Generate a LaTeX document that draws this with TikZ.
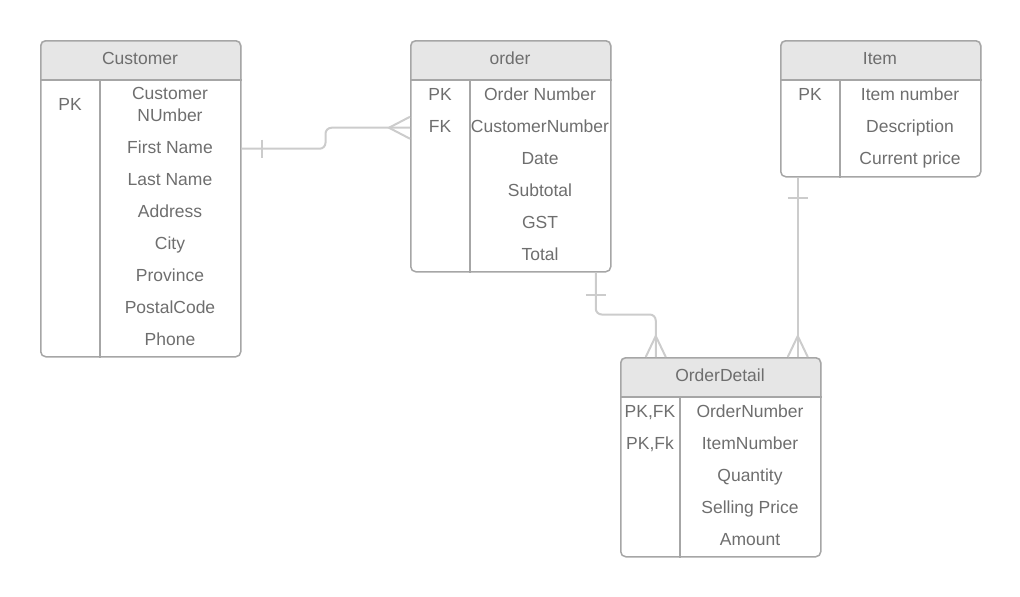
\documentclass[tikz,border=0pt]{standalone}
\usepackage{fontspec}
\setmainfont{Liberation Sans}
\usetikzlibrary{backgrounds}
\definecolor{boxgray}{HTML}{A6A6A6}
\definecolor{headgray}{HTML}{E6E6E6}
\definecolor{txtgray}{HTML}{6E6E6E}
\definecolor{relgray}{HTML}{CCCCCC}
\tikzset{
  tbl/.style={draw=boxgray, line width=1.5pt, rounded corners=5pt, minimum width=200pt, anchor=north west, inner sep=0pt},
  cell/.style={text=txtgray, font=\fontsize{17.5}{22}\selectfont, align=center, inner sep=1pt, anchor=base},
  rel/.style={draw=relgray, line width=2pt},
}
\begin{document}
\begin{tikzpicture}[x=1pt,y=-1pt]
\useasboundingbox (0,0) rectangle (1020,597);
% tables
\node[tbl, minimum height=316pt] (customer) at (40,40) {};
\node[tbl, minimum height=231pt] (order) at (410,40) {};
\node[tbl, minimum height=136pt] (item) at (780,40) {};
\node[tbl, minimum height=199pt] (detail) at (620,357) {};
\begin{scope}[on background layer]
\foreach \t in {customer,order,item,detail}
  \fill[headgray] ([yshift=-40pt]\t.north west) [rounded corners=5pt] -- (\t.north west) -- (\t.north east) [sharp corners] -- ([yshift=-40pt]\t.north east) -- cycle;
\end{scope}
\foreach \t in {customer,order,item,detail} {
  \draw[boxgray, line width=1.5pt] ([yshift=-40pt]\t.north west) -- ([yshift=-40pt]\t.north east);
  \draw[boxgray, line width=1.5pt] ([xshift=60pt,yshift=-40pt]\t.north west) -- ([xshift=60pt]\t.south west);
}
% Customer
\node[cell] (customer-h) at (140,64) {Customer};
\node[cell] (customer-k1) at (70,110) {PK};
\node[cell] (customer-f1) at (170,121) {Customer\\NUmber};
\foreach \f [count=\i from 2] in {First Name,Last Name,Address,City,Province,PostalCode,Phone}
  \node[cell] (customer-f\i) at (170,89+32*\i) {\f};
% order
\node[cell] (order-h) at (510,64) {order};
\node[cell] (order-k1) at (440,100) {PK};
\node[cell] (order-k2) at (440,132) {FK};
\foreach \f [count=\i] in {Order Number,CustomerNumber,Date,Subtotal,GST,Total}
  \node[cell] (order-f\i) at (540,68+32*\i) {\f};
% Item
\node[cell] (item-h) at (880,64) {Item};
\node[cell] (item-k1) at (810,100) {PK};
\foreach \f [count=\i] in {Item number,Description,Current price}
  \node[cell] (item-f\i) at (910,68+32*\i) {\f};
% OrderDetail
\node[cell] (detail-h) at (720,381) {OrderDetail};
\node[cell] (detail-k1) at (650,417) {PK,FK};
\node[cell] (detail-k2) at (650,449) {PK,Fk};
\foreach \f [count=\i] in {OrderNumber,ItemNumber,Quantity,Selling Price,Amount}
  \node[cell] (detail-f\i) at (750,385+32*\i) {\f};
% relations
\draw[rel, rounded corners=6pt] ([yshift=-2pt]customer.east |- customer-f2) -- ++(84,0) |- ([yshift=-2pt]order.west |- order-f2);
\draw[rel] ([yshift=-2pt]customer.east |- customer-f2) ++(20,-9) -- ++(0,18);
\draw[rel] ([yshift=-2pt]order.west |- order-f2) ++(0,-11) -- ++(-21,11) -- ++(21,11);
\draw[rel, rounded corners=6pt] ([xshift=85pt]order.south) -- ++(0,42) -| ([xshift=-65pt]detail.north);
\draw[rel] ([xshift=85pt]order.south) ++(-10,22) -- ++(20,0);
\draw[rel] ([xshift=-75pt]detail.north) -- ++(10,-21) -- ++(10,21);
\draw[rel] ([xshift=-83pt]item.south) -- ([xshift=77pt]detail.north);
\draw[rel] ([xshift=-83pt]item.south) ++(-10,20) -- ++(20,0);
\draw[rel] ([xshift=67pt]detail.north) -- ++(10,-21) -- ++(10,21);
\end{tikzpicture}
\end{document}
